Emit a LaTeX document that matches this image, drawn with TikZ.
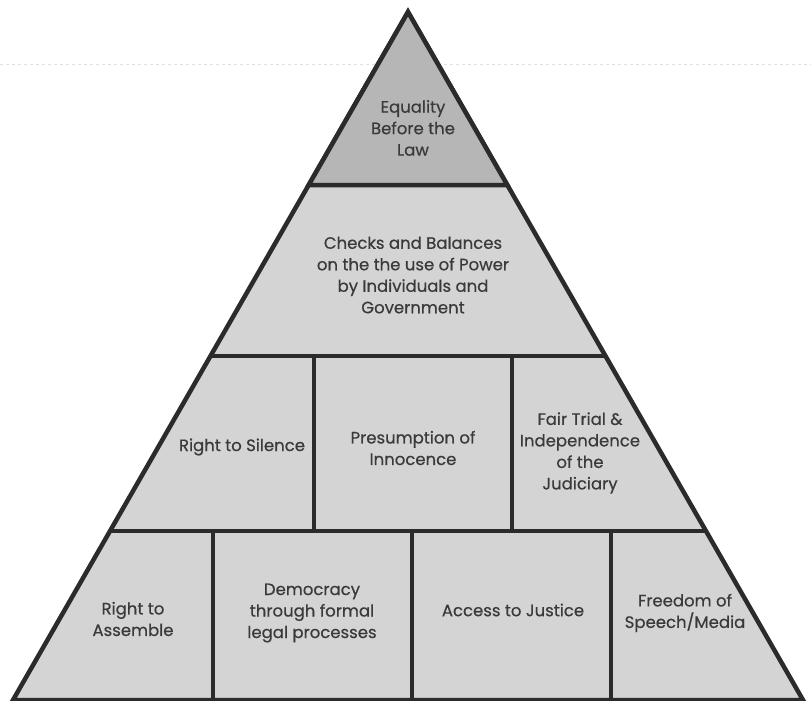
\documentclass[tikz,border=0pt]{standalone}
\usepackage{fontspec}
\setmainfont{Poppins}[FakeBold=0.5]
\usepackage{tikz}
\usepackage{xcolor}
\definecolor{linegray}{HTML}{2B2B2B}
\definecolor{tiergray}{HTML}{D4D4D4}
\definecolor{topgray}{HTML}{B6B6B6}
\definecolor{txtgray}{HTML}{3A3A3A}
\tikzset{
  tier/.style={fill=tiergray, draw=linegray, line width=4.5pt},
  wall/.style={draw=linegray, line width=4.5pt},
  lbl/.style={align=center, text=txtgray, inner sep=0pt, font=\fontsize{16.5}{21.5}\selectfont}
}

\begin{document}
\begin{tikzpicture}[x=1pt,y=-1pt]
\useasboundingbox (0,0) rectangle (811,701);
\draw [black!12, dashed, line width=1pt] (0,65) -- (811,65);
% pyramid
\draw [tier] (408,12) -- (803,700) -- (13,700) -- cycle;
\draw [wall, fill=topgray] (408,12) -- (507.3,185) -- (308.7,185) -- cycle;
\draw [wall] (210.5,356) -- (605.5,356);
\draw [wall] (110,531) -- (706,531);
% walls in row 3
\draw [wall] (314,356) -- (314,531);
\draw [wall] (512,356) -- (512,531);
% walls in row 4
\draw [wall] (213,531) -- (213,700);
\draw [wall] (412,531) -- (412,700);
\draw [wall] (611,531) -- (611,700);
% labels
\node [lbl] (equality) at (413,128) {Equality\\Before the\\Law};
\node [lbl] (checks) at (413,275) {Checks and Balances\\on the the use of Power\\by Individuals and\\Government};
\node [lbl] (silence) at (242,447) {Right to Silence};
\node [lbl] (presumption) at (413,448) {Presumption of\\Innocence};
\node [lbl] (fairtrial) at (580,453) {Fair Trial \&\\Independence\\of the\\Judiciary};
\node [lbl] (assemble) at (133,619) {Right to\\Assemble};
\node [lbl] (democracy) at (312,613) {Democracy\\through formal\\legal processes};
\node [lbl] (access) at (513,610) {Access to Justice};
\node [lbl] (freedom) at (685,613) {Freedom of\\Speech/Media};
\end{tikzpicture}
\end{document}
